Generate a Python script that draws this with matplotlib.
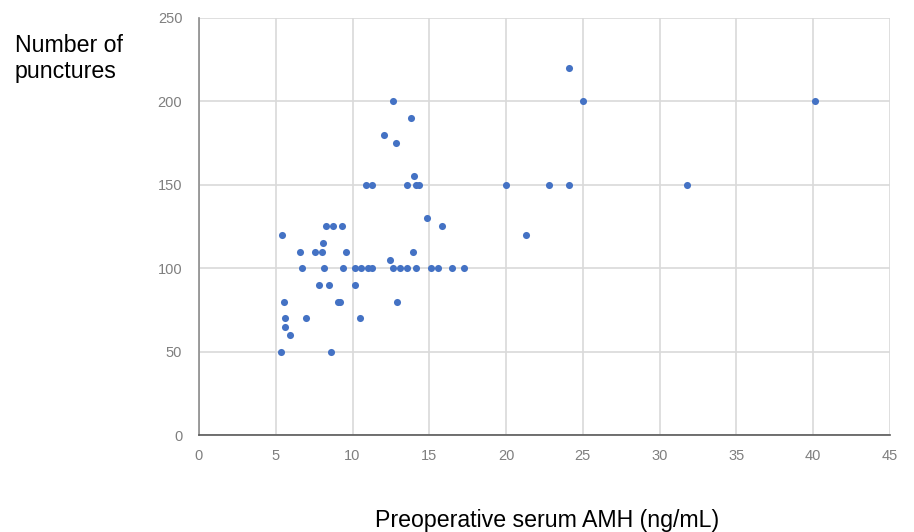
import numpy as np
import matplotlib.pyplot as plt
from matplotlib import font_manager

amh = [5.31, 5.4, 5.53, 5.6, 5.6, 5.94, 6.57, 6.72, 6.96, 7.57, 7.81, 8.02,
       8.09, 8.16, 8.28, 8.46, 8.57, 8.72, 9.04, 9.17, 9.3, 9.41, 9.6, 10.13,
       10.17, 10.51, 10.52, 10.9, 11.26, 10.99, 11.26, 12.02, 12.43, 12.62,
       12.62, 12.84, 12.9, 13.12, 13.53, 13.55, 13.81, 13.94, 14.03, 14.14,
       14.36, 14.14, 14.85, 15.11, 15.56, 15.84, 16.46, 17.24, 20.0, 21.3,
       22.8, 24.1, 24.1, 25.0, 31.8, 40.1]
punctures = [50, 120, 80, 70, 65, 60, 110, 100, 70, 110, 90, 110,
             115, 100, 125, 90, 50, 125, 80, 80, 125, 100, 110, 90,
             100, 70, 100, 150, 150, 100, 100, 180, 105, 200,
             100, 175, 80, 100, 150, 100, 190, 110, 155, 150,
             150, 100, 130, 100, 100, 125, 100, 100, 150, 120,
             150, 220, 150, 200, 150, 200]

plt.rcParams['font.family'] = ['Liberation Sans', 'DejaVu Sans']
names = {f.name for f in font_manager.fontManager.ttflist}
tick_font = 'Liberation Sans Narrow' if 'Liberation Sans Narrow' in names else 'Liberation Sans'

fig = plt.figure(figsize=(9.14, 5.32), dpi=100)
ax = fig.add_axes([0.2177, 0.1823, 0.9737 - 0.2177, 0.9662 - 0.1823])

ax.scatter(amh, punctures, s=26, color='#4472C4', zorder=3, linewidths=0)

ax.set_xlim(0, 45)
ax.set_ylim(0, 250)
ax.set_xticks(np.arange(0, 46, 5))
ax.set_yticks(np.arange(0, 251, 50))
ax.grid(True, color='#d9d9d9', linewidth=1.2)
ax.set_axisbelow(True)
for s in ['top', 'right']:
    ax.spines[s].set_visible(False)
ax.spines['left'].set_color('#8c8c8c')
ax.spines['bottom'].set_color('#595959')
ax.spines['left'].set_linewidth(1.2)
ax.spines['bottom'].set_linewidth(1.2)
ax.tick_params(length=0, labelsize=10.5, colors='#7f7f7f')
ax.tick_params(axis='y', pad=12)
ax.tick_params(axis='x', pad=10)
for lbl in ax.get_xticklabels() + ax.get_yticklabels():
    lbl.set_fontfamily(tick_font)

# y label sits horizontally in the top-left corner, two lines
fig.text(15 / 914, 1 - 52 / 532, 'Number of', fontsize=16.7,
         ha='left', va='baseline')
fig.text(15 / 914, 1 - 78 / 532, 'punctures', fontsize=16.7,
         ha='left', va='baseline')
fig.text(547 / 914, 1 - 521 / 532, 'Preoperative serum AMH (ng/mL)',
         fontsize=16.7, ha='center', va='center')

fig.savefig('out.png', dpi=100)
